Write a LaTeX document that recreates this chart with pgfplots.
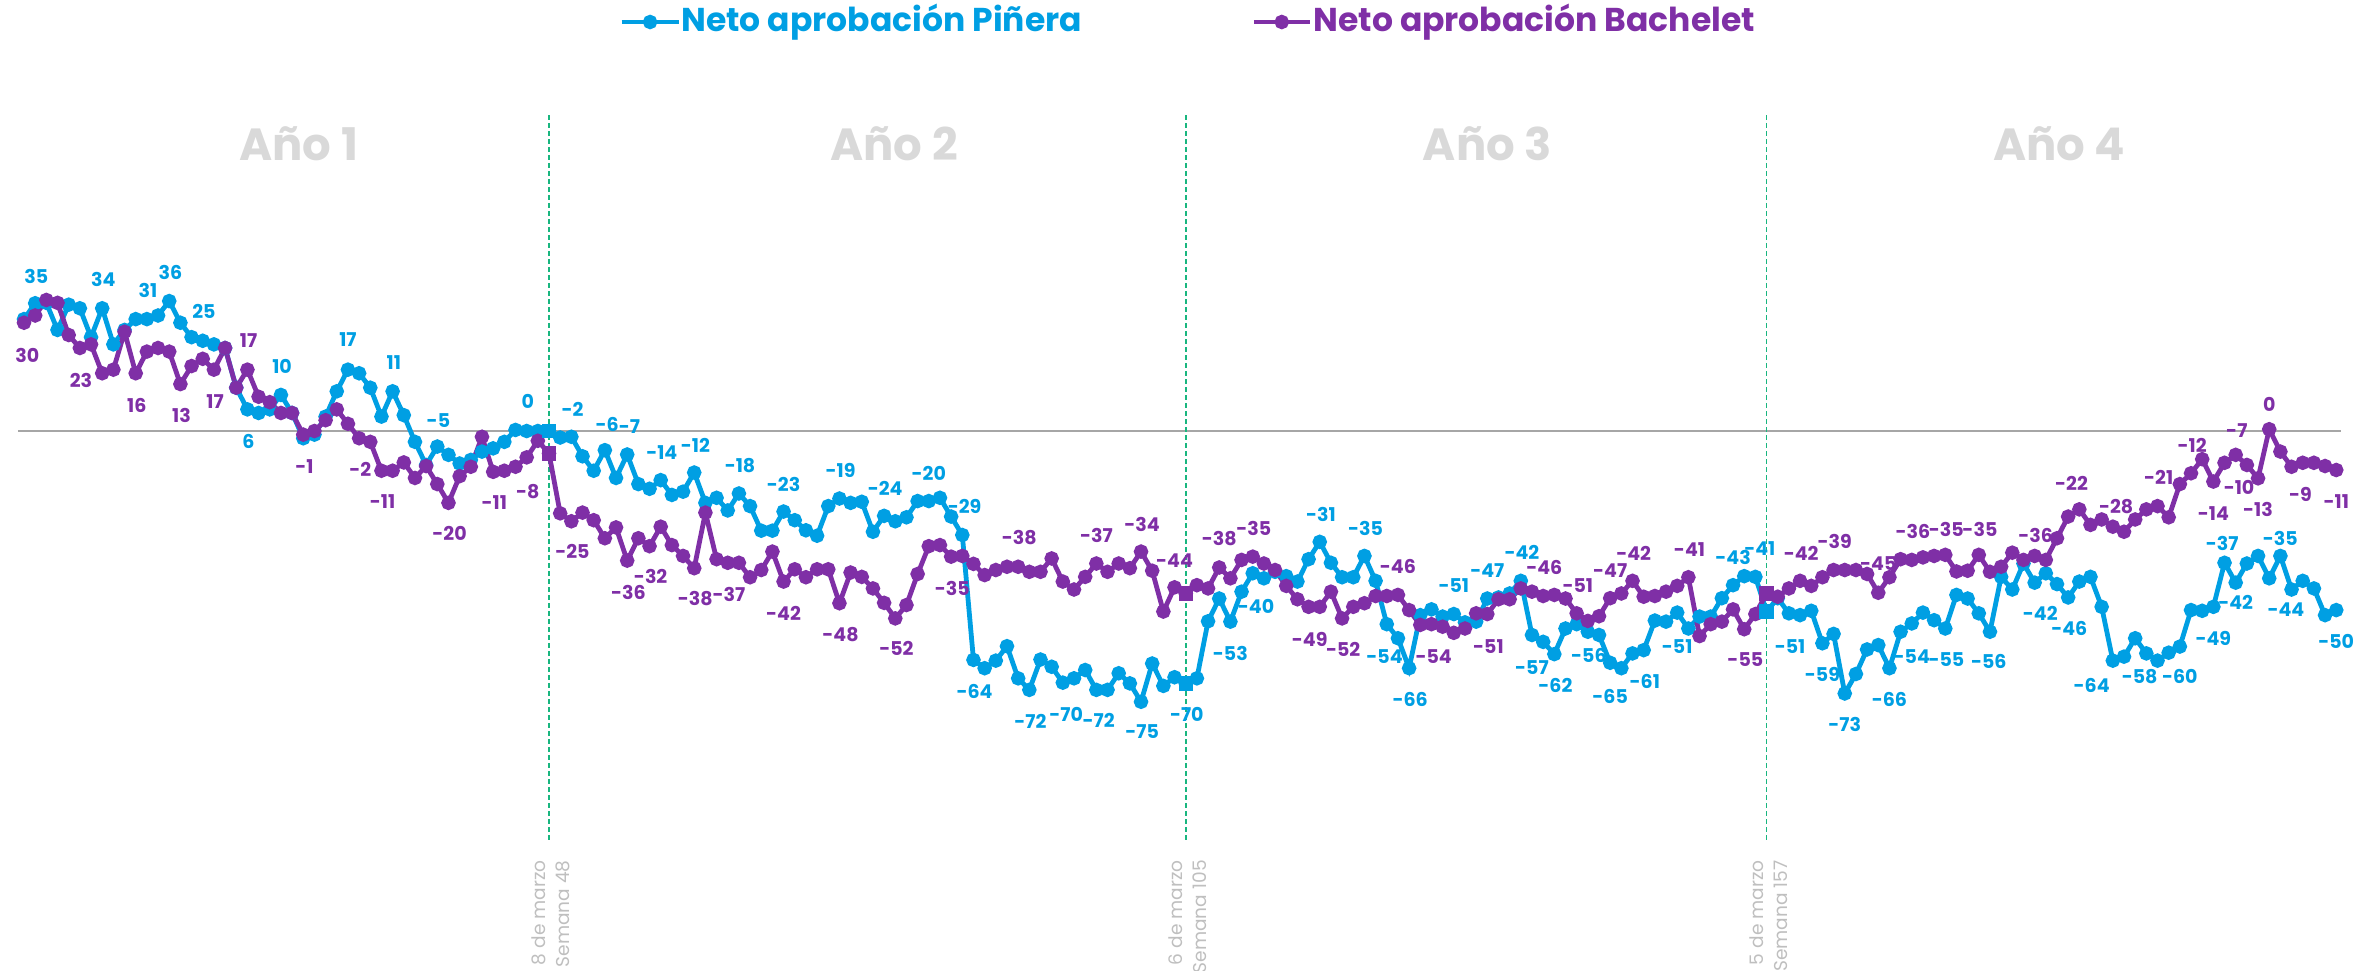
\documentclass[border=0pt]{standalone}
\usepackage{fontspec}
\setmainfont{Poppins}
\usepackage{pgfplots}
\usepackage{pgfplotstable}
\pgfplotsset{compat=1.18}

\definecolor{pblue}{HTML}{009FE3}
\definecolor{bpurple}{HTML}{7F2FA6}
\definecolor{yeargray}{HTML}{D9D9D9}
\definecolor{zerogray}{HTML}{A6A6A6}
\definecolor{vgreen}{HTML}{19B67F}
\definecolor{notegray}{HTML}{BFBFBF}

% semana, neto Piñera, neto Bachelet
\pgfplotstableread{
w p b
1 31 30
2 35.4 32
3 35.5 36.3
4 28 35.5
5 35 26.6
6 34 23
7 26 24
8 34 16
9 24 17
10 28 27.5
11 31 16
12 31 22
13 32 23
14 36 22
15 30 13
16 26 18
17 25 20
18 24 17
19 23 23
20 12 12
21 6 17
22 5 9.5
23 6 8
24 10 5
25 5 5
26 -2 -1
27 -1 0
28 4 3
29 11 6
30 17 2
31 16 -2
32 12 -3
33 4 -11
34 11 -11
35 4.4 -8.7
36 -3 -13
37 -9.4 -9.7
38 -4.3 -14.7
39 -6.6 -19.9
40 -9 -12.5
41 -8 -9.9
42 -5.7 -1.6
43 -4.8 -11.3
44 -3 -11
45 0.3 -9.9
46 0 -7.3
47 0 -2.7
48 0 -6.2
49 -1.8 -22.8
50 -1.6 -25
51 -7 -22.6
52 -11 -24.7
53 -5.3 -29.7
54 -13 -26.7
55 -6.5 -35.9
56 -14.7 -29.7
57 -16 -31.9
58 -13.6 -26.5
59 -17.7 -31.6
60 -16.8 -34.6
61 -11.5 -38
62 -19.9 -22.6
63 -18.5 -35.5
64 -22 -36.5
65 -17.3 -36.5
66 -20.8 -40.5
67 -27.6 -38.5
68 -27.6 -33.4
69 -22.3 -41.7
70 -24.7 -38.3
71 -27.5 -40.5
72 -29 -38.3
73 -20.8 -38.3
74 -18.7 -47.7
75 -19.9 -39.2
76 -19.6 -40.4
77 -27.9 -43.6
78 -23.5 -47.6
79 -25 -51.9
80 -23.9 -48.2
81 -19.4 -39.6
82 -19.4 -31.9
83 -18.5 -31.6
84 -23.7 -34.8
85 -28.8 -34.6
86 -63.4 -36.8
87 -65.7 -39.9
88 -63.6 -38.5
89 -59.6 -37.6
90 -68.5 -37.6
91 -71.7 -39
92 -63.3 -39
93 -65.3 -35.3
94 -69.7 -41.7
95 -68.5 -43.9
96 -66.2 -40.4
97 -71.7 -36.7
98 -71.7 -39
99 -67.1 -36.7
100 -69.9 -38
101 -75 -33.4
102 -64.4 -38.7
103 -70.6 -50
104 -68.2 -43.3
105 -69.9 -45
106 -68.5 -42.7
107 -52.7 -43.6
108 -46.4 -37.8
109 -52.8 -40.8
110 -44.5 -35.7
111 -39.4 -34.8
112 -40.8 -36.7
113 -39 -38.5
114 -40.2 -42.9
115 -41.7 -46.6
116 -35.5 -48.7
117 -30.7 -48.7
118 -36.5 -44.5
119 -40.5 -51.9
120 -40.5 -48.7
121 -34.6 -47.7
122 -41.5 -45.7
123 -53.5 -45.7
124 -57.4 -45.4
125 -65.7 -49.6
126 -51 -53.7
127 -49.4 -53.5
128 -51.4 -54.2
129 -50.7 -55.9
130 -53 -54.7
131 -52.8 -50.5
132 -46.4 -50.7
133 -46.1 -46.6
134 -45 -46.6
135 -41.5 -43.6
136 -56.5 -44.5
137 -58.4 -45.7
138 -61.8 -45.4
139 -54.7 -46.4
140 -53.5 -50.5
141 -55.6 -52.6
142 -56.5 -51.3
143 -64.2 -46.3
144 -65.7 -45
145 -61.6 -41.5
146 -60.7 -45.9
147 -52.5 -45.7
148 -52.8 -44.5
149 -50.3 -42.9
150 -54.7 -40.5
151 -51.4 -56.8
152 -51.4 -53.5
153 -46.3 -52.8
154 -42.7 -49.4
155 -40.2 -54.9
156 -40.4 -50.7
157 -50 -45
158 -46.3 -45.9
159 -50.5 -43.6
160 -51 -41.5
161 -49.8 -42.9
162 -58.8 -40.5
163 -56.2 -38.5
164 -72.7 -38.5
165 -67.3 -38.5
166 -60.5 -39.6
167 -59.3 -44.8
168 -65.7 -40.5
169 -55.6 -35.5
170 -53.3 -35.7
171 -50.3 -35
172 -52.4 -34.6
173 -54.7 -34.3
174 -45.4 -38.9
175 -46.4 -38.7
176 -50.5 -34.3
177 -55.6 -39
178 -40.4 -37.6
179 -43.9 -33.7
180 -36.7 -35.7
181 -42 -34.6
182 -39.4 -35.7
183 -42.4 -29.7
184 -46.1 -23.7
185 -41.7 -21.7
186 -40.4 -26
187 -48.7 -24.5
188 -63.6 -26.5
189 -62.5 -27.9
190 -57.4 -24.5
191 -61.6 -21.7
192 -63.6 -20.8
193 -61.4 -23.9
194 -59.7 -14.7
195 -49.6 -11.7
196 -49.8 -7.8
197 -48.7 -14
198 -36.5 -8.8
199 -42 -6.6
200 -36.7 -9.4
201 -34.6 -13.1
202 -40.8 0.5
203 -34.6 -5.7
204 -43.9 -9.9
205 -41.5 -8.8
206 -43.6 -8.8
207 -51 -9.7
208 -49.6 -10.8
}\approval

\tikzset{
  lb/.style={font=\fontsize{9.5}{10}\selectfont\bfseries, text=pblue, inner sep=0pt},
  lp/.style={font=\fontsize{9.5}{10}\selectfont\bfseries, text=bpurple, inner sep=0pt},
  year/.style={font=\fontsize{22.5}{24}\selectfont\bfseries, text=yeargray, inner sep=0pt},
  note/.style={font=\fontsize{9.3}{12}\selectfont, text=notegray, rotate=90,
    anchor=east, align=right, inner sep=0pt},
  leg/.style={font=\fontsize{16.5}{18}\selectfont\bfseries, anchor=base west, inner sep=0pt},
}

\begin{document}
\begin{tikzpicture}
\begin{axis}[
  hide axis, clip=false,
  x=5.585pt, y=1.805pt,
  xmin=-1.15, xmax=211.83, ymin=-149.3, ymax=119.4,
]
% marco de la imagen
\coordinate (bbSW) at (axis cs:-1.15,-149.3);
\coordinate (bbNE) at (axis cs:211.83,119.4);

% linea de cero y cortes de año
\addplot[zerogray, line width=1pt, forget plot] coordinates {(0.46,0)(208.4,0)};
\addplot[vgreen, line width=0.8pt, dash pattern=on 2.5pt off 1.5pt, forget plot] coordinates {(48,87.5)(48,-114.1)};
\addplot[vgreen, line width=0.8pt, dash pattern=on 2.5pt off 1.5pt, forget plot] coordinates {(105,87.5)(105,-114.1)};
\addplot[vgreen, line width=0.8pt, dash pattern=on 2.5pt off 1.5pt, forget plot] coordinates {(157,87.5)(157,-114.1)};

% series
\addplot[pblue, line width=2.4pt, mark=*, mark size=2.4pt] table[x=w, y=p] {\approval};
\addplot[bpurple, line width=2.4pt, mark=*, mark size=2.4pt] table[x=w, y=b] {\approval};
\addplot[only marks, pblue, mark=square*, mark size=3.4pt] coordinates {(48,0)(105,-69.9)(157,-50)};
\addplot[only marks, bpurple, mark=square*, mark size=3.4pt] coordinates {(48,-6.2)(105,-45)(157,-45)};

% leyenda
\addplot[pblue, line width=2.4pt, mark=*, mark size=2.4pt, mark indices={2}] coordinates {(54.5,113.3)(57.05,113.3)(59.6,113.3)};
\addplot[bpurple, line width=2.4pt, mark=*, mark size=2.4pt, mark indices={2}] coordinates {(111.1,113.3)(113.6,113.3)(116.1,113.3)};
\node[leg, text=pblue] at (axis cs:59.8,110.8) {Neto aprobación Piñera};
\node[leg, text=bpurple] at (axis cs:116.4,110.8) {Neto aprobación Bachelet};

% años
\node[year] at (axis cs:25.6,79.5) {Año 1};
\node[year] at (axis cs:78.9,79.5) {Año 2};
\node[year] at (axis cs:132,79.5) {Año 3};
\node[year] at (axis cs:183.2,79.5) {Año 4};

% notas de los cortes
\node[note] at (axis cs:48.2,-118.8) {8 de marzo\\Semana 48};
\node[note] at (axis cs:105.2,-118.8) {6 de marzo\\Semana 105};
\node[note] at (axis cs:157.2,-118.8) {5 de marzo\\Semana 157};

% etiquetas Piñera
\node[lb] at (axis cs:2.1,42.9) {35};
\node[lb] at (axis cs:8.1,42) {34};
\node[lb] at (axis cs:12.1,39) {31};
\node[lb] at (axis cs:14.1,44) {36};
\node[lb] at (axis cs:17.1,33) {25};
\node[lb] at (axis cs:24.1,18) {10};
\node[lb] at (axis cs:30,25.2) {17};
\node[lb] at (axis cs:34.1,18.9) {11};
\node[lb] at (axis cs:21.1,-2.8) {6};
\node[lb] at (axis cs:38.1,2.9) {-5};
\node[lb] at (axis cs:46.1,8.1) {0};
\node[lb] at (axis cs:50.1,6) {-2};
\node[lb] at (axis cs:53.2,1.9) {-6};
\node[lb] at (axis cs:55.2,1.2) {-7};
\node[lb] at (axis cs:58.1,-6) {-14};
\node[lb] at (axis cs:61.1,-3.9) {-12};
\node[lb] at (axis cs:65.1,-9.7) {-18};
\node[lb] at (axis cs:69,-14.7) {-23};
\node[lb] at (axis cs:74.1,-10.8) {-19};
\node[lb] at (axis cs:78.1,-15.9) {-24};
\node[lb] at (axis cs:82,-11.7) {-20};
\node[lb] at (axis cs:85.2,-20.8) {-29};
\node[lb] at (axis cs:86.1,-72.2) {-64};
\node[lb] at (axis cs:91.1,-80.5) {-72};
\node[lb] at (axis cs:94.3,-78.4) {-70};
\node[lb] at (axis cs:97.2,-80.2) {-72};
\node[lb] at (axis cs:101.1,-83.3) {-75};
\node[lb] at (axis cs:105.1,-78.4) {-70};
\node[lb] at (axis cs:109,-61.6) {-53};
\node[lb] at (axis cs:111.3,-48.5) {-40};
\node[lb] at (axis cs:117.1,-23) {-31};
\node[lb] at (axis cs:121.1,-27) {-35};
\node[lb] at (axis cs:122.8,-62.5) {-54};
\node[lb] at (axis cs:125.1,-74.3) {-66};
\node[lb] at (axis cs:129,-42.9) {-51};
\node[lb] at (axis cs:132,-38.7) {-47};
\node[lb] at (axis cs:135.1,-33.7) {-42};
\node[lb] at (axis cs:136,-65.5) {-57};
\node[lb] at (axis cs:138.1,-70.4) {-62};
\node[lb] at (axis cs:141.1,-62.3) {-56};
\node[lb] at (axis cs:143,-73.6) {-65};
\node[lb] at (axis cs:146.1,-69.4) {-61};
\node[lb] at (axis cs:149,-59.7) {-51};
\node[lb] at (axis cs:154,-35) {-43};
\node[lb] at (axis cs:156.4,-32.5) {-41};
\node[lb] at (axis cs:159.1,-59.7) {-51};
\node[lb] at (axis cs:162,-67.3) {-59};
\node[lb] at (axis cs:164,-81.4) {-73};
\node[lb] at (axis cs:168,-74.3) {-66};
\node[lb] at (axis cs:170,-62.5) {-54};
\node[lb] at (axis cs:173.1,-63.4) {-55};
\node[lb] at (axis cs:176.9,-63.9) {-56};
\node[lb] at (axis cs:181.5,-50.5) {-42};
\node[lb] at (axis cs:184.1,-54.7) {-46};
\node[lb] at (axis cs:186.1,-70.4) {-64};
\node[lb] at (axis cs:190.4,-67.9) {-58};
\node[lb] at (axis cs:194,-68.1) {-60};
\node[lb] at (axis cs:197,-57.4) {-49};
\node[lb] at (axis cs:199,-47.6) {-42};
\node[lb] at (axis cs:197.8,-31.1) {-37};
\node[lb] at (axis cs:203,-29.7) {-35};
\node[lb] at (axis cs:203.5,-49.4) {-44};
\node[lb] at (axis cs:208,-58.4) {-50};

% etiquetas Bachelet
\node[lp] at (axis cs:1.3,21) {30};
\node[lp] at (axis cs:6.1,14.1) {23};
\node[lp] at (axis cs:11.1,7.2) {16};
\node[lp] at (axis cs:15.1,4.2) {13};
\node[lp] at (axis cs:18.1,8.1) {17};
\node[lp] at (axis cs:21.1,25) {17};
\node[lp] at (axis cs:26.1,-9.9) {-1};
\node[lp] at (axis cs:31.1,-10.6) {-2};
\node[lp] at (axis cs:33.1,-19.6) {-11};
\node[lp] at (axis cs:39.1,-28.3) {-20};
\node[lp] at (axis cs:43.1,-19.9) {-11};
\node[lp] at (axis cs:46.1,-16.8) {-8};
\node[lp] at (axis cs:50.1,-33.4) {-25};
\node[lp] at (axis cs:55.1,-44.8) {-36};
\node[lp] at (axis cs:57.1,-40.4) {-32};
\node[lp] at (axis cs:61.1,-46.4) {-38};
\node[lp] at (axis cs:64.1,-45.4) {-37};
\node[lp] at (axis cs:69,-50.5) {-42};
\node[lp] at (axis cs:74.1,-56.5) {-48};
\node[lp] at (axis cs:79.1,-60.2) {-52};
\node[lp] at (axis cs:84.1,-43.6) {-35};
\node[lp] at (axis cs:90.1,-29.4) {-38};
\node[lp] at (axis cs:97,-28.8) {-37};
\node[lp] at (axis cs:101.1,-25.8) {-34};
\node[lp] at (axis cs:104,-35.9) {-44};
\node[lp] at (axis cs:108,-29.7) {-38};
\node[lp] at (axis cs:111.1,-27) {-35};
\node[lp] at (axis cs:116.1,-57.7) {-49};
\node[lp] at (axis cs:119.1,-60.5) {-52};
\node[lp] at (axis cs:124,-37.6) {-46};
\node[lp] at (axis cs:127.2,-62.5) {-54};
\node[lp] at (axis cs:132.1,-59.6) {-51};
\node[lp] at (axis cs:137.1,-37.8) {-46};
\node[lp] at (axis cs:140.1,-42.7) {-51};
\node[lp] at (axis cs:143,-38.7) {-47};
\node[lp] at (axis cs:145.1,-33.9) {-42};
\node[lp] at (axis cs:150.1,-32.8) {-41};
\node[lp] at (axis cs:155.1,-63.4) {-55};
\node[lp] at (axis cs:160.1,-33.9) {-42};
\node[lp] at (axis cs:163.1,-30.7) {-39};
\node[lp] at (axis cs:167,-36.7) {-45};
\node[lp] at (axis cs:170.1,-27.9) {-36};
\node[lp] at (axis cs:173.1,-27.4) {-35};
\node[lp] at (axis cs:176.1,-27.4) {-35};
\node[lp] at (axis cs:181.1,-28.8) {-36};
\node[lp] at (axis cs:184.3,-14.5) {-22};
\node[lp] at (axis cs:188.3,-20.8) {-28};
\node[lp] at (axis cs:192.1,-12.8) {-21};
\node[lp] at (axis cs:195.1,-3.9) {-12};
\node[lp] at (axis cs:197,-22.8) {-14};
\node[lp] at (axis cs:199.1,0.1) {-7};
\node[lp] at (axis cs:199.3,-15.6) {-10};
\node[lp] at (axis cs:201,-21.7) {-13};
\node[lp] at (axis cs:202,7.5) {0};
\node[lp] at (axis cs:204.8,-17.7) {-9};
\node[lp] at (axis cs:208,-19.6) {-11};
\end{axis}
\pgfresetboundingbox
\path[use as bounding box] (bbSW) rectangle (bbNE);
\end{tikzpicture}
\end{document}
